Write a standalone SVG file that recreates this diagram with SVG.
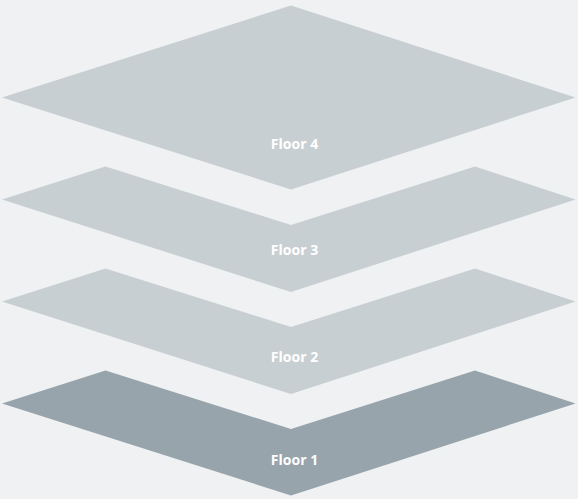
<svg xmlns="http://www.w3.org/2000/svg" width="578" height="499" viewBox="0 0 578 499">
<style>
.floor{fill:#c8cfd2}
.floor.active{fill:#97a4ab}
.lbl{font-family:"Open Sans","Liberation Sans",sans-serif;font-weight:bold;font-size:14px;fill:#ffffff;text-anchor:middle}
</style>
<rect x="0" y="0" width="578" height="499" fill="#eff1f3"/>
<g id="floor4">
<polygon class="floor" points="291,5.5 575.5,97.5 291,189.5 2,97.5"/>
<text class="lbl" x="294.5" y="149">Floor 4</text>
</g>
<g id="floor3">
<polygon class="floor" points="2,199.5 105.5,166.5 291,225 475,166.5 575.5,199.5 291,292"/>
<text class="lbl" x="294.5" y="254.5">Floor 3</text>
</g>
<g id="floor2">
<polygon class="floor" points="2,301.5 105.5,268.5 291,327 475,268.5 575.5,301.5 291,394"/>
<text class="lbl" x="294.5" y="361.5">Floor 2</text>
</g>
<g id="floor1">
<polygon class="floor active" points="2,403.5 105.5,370.5 291,429 475,370.5 575.5,403.5 291,495.5"/>
<text class="lbl" x="294.5" y="464.5">Floor 1</text>
</g>
<g id="connectors"/>
</svg>
